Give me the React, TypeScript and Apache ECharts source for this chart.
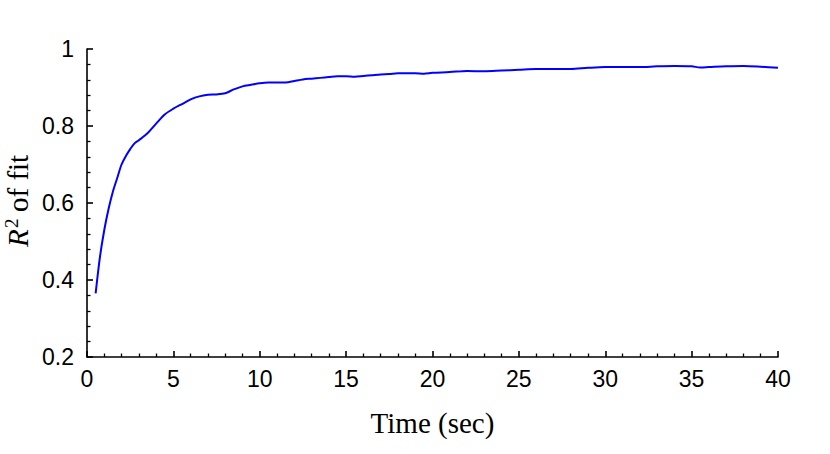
import React, { useEffect, useRef } from "react";
import * as echarts from "echarts";

const times = [
  0.5, 0.75, 1.0, 1.25, 1.5, 1.75, 2.0, 2.25, 2.5, 2.75, 3.0, 3.5, 4.0, 4.5, 5.0, 5.5, 6.0, 6.5, 7.0, 7.5,
  8.0, 8.5, 9.0, 9.5, 10.0, 10.5, 11.0, 11.5, 12.0, 12.5, 13.0, 13.5, 14.0, 14.5, 15.0, 15.5, 16.0, 16.5,
  17.0, 17.5, 18.0, 18.5, 19.0, 19.5, 20, 21, 22, 23, 24, 25, 26, 27, 28, 29, 30, 31, 32, 33, 34, 35, 35.5,
  36, 37, 38, 39, 40,
];
const r2Values = [
  0.365, 0.46, 0.53, 0.585, 0.63, 0.665, 0.7, 0.722, 0.74, 0.755, 0.763, 0.781, 0.806, 0.83, 0.845, 0.857,
  0.869, 0.877, 0.881, 0.882, 0.885, 0.895, 0.903, 0.907, 0.911, 0.913, 0.913, 0.913, 0.917, 0.921, 0.923,
  0.925, 0.927, 0.929, 0.929, 0.928, 0.93, 0.932, 0.934, 0.935, 0.937, 0.937, 0.937, 0.936, 0.938, 0.94,
  0.943, 0.942, 0.944, 0.946, 0.948, 0.948, 0.948, 0.951, 0.953, 0.953, 0.953, 0.955, 0.956, 0.955, 0.952,
  0.953, 0.955, 0.956, 0.954, 0.951,
];
const xTickLabels = ["0", "5", "10", "15", "20", "25", "30", "35", "40"];
const yTickLabels = ["0.2", "0.4", "0.6", "0.8", "1"];
const xAxisTitle = "Time (sec)";
const yAxisTitleVar = "R";
const yAxisTitleSup = "2";
const yAxisTitleRest = "of fit";

export default function App() {
  const ref = useRef<HTMLDivElement>(null);
  useEffect(() => {
    if (!ref.current) return;
    const chart = echarts.init(ref.current, null, { renderer: "svg" });
    const axisCommon = {
      axisLine: { show: true, lineStyle: { color: "#000", width: 1.6 } },
      axisTick: { show: true, inside: true, length: 6, lineStyle: { color: "#000", width: 1.6 } },
      minorTick: { show: true, splitNumber: 5, length: 3.5, lineStyle: { color: "#000", width: 1.3 } },
      splitLine: { show: false },
      minorSplitLine: { show: false },
    };
    const titleFont = 29;
    const serif = "Liberation Serif";
    chart.setOption({
      animation: false,
      backgroundColor: "#fff",
      grid: { left: 87, right: 52, top: 49, bottom: 97, containLabel: false, outerBoundsMode: "none" },
      xAxis: {
        type: "value",
        min: 0,
        max: 40,
        interval: 5,
        ...axisCommon,
        axisLabel: {
          color: "#000",
          fontFamily: "Liberation Sans",
          fontSize: 23,
          margin: 10,
          formatter: (v: number) => xTickLabels[Math.round(v / 5)] ?? String(v),
        },
        name: xAxisTitle,
        nameLocation: "middle",
        nameGap: 51,
        nameTextStyle: { color: "#000", fontFamily: serif, fontSize: titleFont },
      },
      yAxis: {
        type: "value",
        min: 0.2,
        max: 1,
        interval: 0.2,
        ...axisCommon,
        axisLabel: {
          color: "#000",
          fontFamily: "Liberation Sans",
          fontSize: 23,
          margin: 13,
          formatter: (v: number) => yTickLabels[Math.round((v - 0.2) / 0.2)] ?? String(v),
        },
      },
      graphic: [
        {
          type: "group",
          x: 18,
          y: 200,
          rotation: Math.PI / 2,
          children: [
            {
              type: "text",
              x: -47,
              y: 0,
              style: {
                text: yAxisTitleVar,
                align: "left",
                verticalAlign: "middle",
                fill: "#000",
                fontFamily: serif,
                fontStyle: "italic",
                fontSize: titleFont,
              },
            },
            {
              type: "text",
              x: -28,
              y: -7,
              style: {
                text: yAxisTitleSup,
                align: "left",
                verticalAlign: "middle",
                fill: "#000",
                fontFamily: serif,
                fontSize: 19,
              },
            },
            {
              type: "text",
              x: -12,
              y: 0,
              style: {
                text: yAxisTitleRest,
                align: "left",
                verticalAlign: "middle",
                fill: "#000",
                fontFamily: serif,
                fontSize: titleFont,
              },
            },
          ],
        },
      ],
      series: [
        {
          type: "line",
          data: times.map((t, i) => [t, r2Values[i]]),
          showSymbol: false,
          smooth: 0.3,
          lineStyle: { color: "#0000ff", width: 2 },
        },
      ],
    });
    return () => chart.dispose();
  }, []);
  return (
    <div
      ref={ref}
      style={{ position: "fixed", left: 0, top: 0, width: 830, height: 454 }}
    />
  );
}
